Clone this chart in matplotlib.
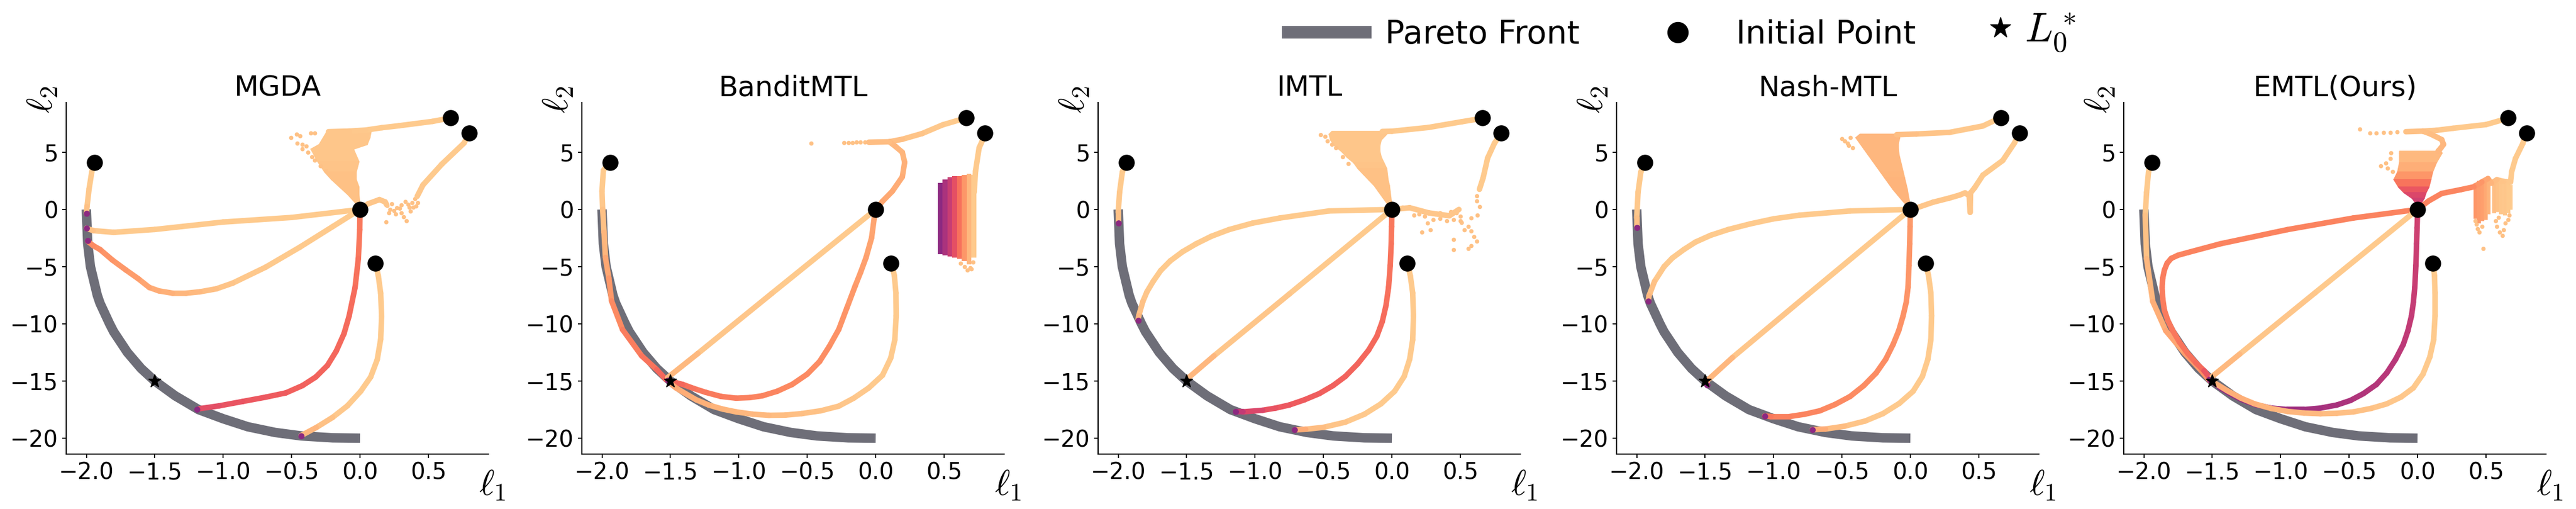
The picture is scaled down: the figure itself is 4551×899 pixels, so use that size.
import matplotlib.pyplot as plt
import numpy as np
from matplotlib.collections import LineCollection
from matplotlib.lines import Line2D

plt.rcParams['mathtext.fontset'] = 'cm'

titles = ['MGDA', 'BanditMTL', 'IMTL', 'Nash-MTL', 'EMTL(Ours)']

# Pareto front
front_l1 = [-2.00, -1.99, -1.97, -1.92, -1.90, -1.83, -1.80, -1.70, -1.60, -1.50,
            -1.35, -1.18, -1.00, -0.82, -0.62, -0.43, -0.20, 0.00]
front_l2 = [0.0, -3.0, -5.0, -7.5, -8.2, -10.0, -10.7, -12.5, -13.9, -15.0,
            -16.3, -17.5, -18.3, -19.0, -19.5, -19.8, -19.97, -20.0]

# initial points and L0*
init_l1 = [-1.94, 0.0, 0.11, 0.66, 0.80]
init_l2 = [4.1, 0.0, -4.7, 8.0, 6.7]
opt_l1, opt_l2 = -1.5, -15.0

# trajectories: rows of [l1, l2, progress] (progress -> magma colour)
mgda_paths = [
    [[-1.94, 4.1, .89], [-1.96, 3.3, .89], [-1.98, 1.8, .89], [-1.995, 0.25, .88], [-2.0, -0.35, .86]],
    [[0.0, 0.0, .89], [-0.5, -0.7, .89], [-1.0, -1.1, .89], [-1.5, -1.75, .89], [-1.8, -2.0, .89],
     [-1.95, -1.85, .88], [-2.0, -1.64, .86]],
    [[0.0, 0.0, .89], [-0.2, -1.5, .89], [-0.44, -3.3, .89], [-0.69, -5.05, .89], [-0.93, -6.44, .88],
     [-1.05, -6.94, .87], [-1.17, -7.2, .86], [-1.27, -7.32, .85], [-1.37, -7.32, .84], [-1.47, -7.12, .83],
     [-1.54, -6.82, .82], [-1.62, -6.06, .80], [-1.71, -5.3, .79], [-1.81, -4.42, .78], [-1.90, -3.5, .77],
     [-1.95, -3.16, .76], [-1.99, -2.78, .75]],
    [[0.0, 0.0, .72], [-0.002, -1.77, .72], [-0.012, -4.29, .71], [-0.036, -6.82, .70], [-0.08, -9.34, .69],
     [-0.117, -10.86, .69], [-0.173, -12.37, .68], [-0.238, -13.64, .68], [-0.323, -14.65, .67],
     [-0.42, -15.4, .67], [-0.542, -16.04, .66], [-0.688, -16.41, .65], [-0.858, -16.79, .64],
     [-1.028, -17.17, .63], [-1.174, -17.42, .60]],
    [[0.114, -4.72, .89], [0.134, -5.81, .89], [0.151, -7.32, .89], [0.158, -9.34, .89], [0.151, -11.36, .89],
     [0.126, -13.13, .89], [0.078, -14.65, .89], [0.005, -15.9, .89], [-0.092, -17.17, .89],
     [-0.2, -18.18, .88], [-0.32, -19.07, .86], [-0.43, -19.77, .84]],
    [[0.66, 8.0, .89], [0.53, 7.7, .89], [0.284, 7.32, .89], [0.16, 7.15, .89], [0.04, 6.94, .89],
     [-0.08, 6.85, .88], [-0.23, 6.8, .88]],
    [[0.80, 6.7, .89], [0.76, 5.8, .89], [0.598, 3.96, .89], [0.46, 2.14, .89], [0.418, 1.15, .88]],
    [[0.0, 0.0, .88], [0.06, 0.5, .88], [0.142, 0.86, .88], [0.184, 0.66, .88], [0.195, 0.41, .88]],
]
bandit_paths = [
    [[-1.95, 4.1, .89], [-1.99, 3.4, .89], [-2.0, 1.6, .89], [-1.995, 0.0, .88], [-1.985, -2.0, .86],
     [-1.975, -4.2, .83], [-1.95, -6.0, .80], [-1.93, -8.0, .77], [-1.85, -10.5, .74], [-1.71, -12.8, .72],
     [-1.60, -14.0, .70], [-1.53, -14.9, .66]],
    [[0.0, 0.0, .89], [-0.76, -7.35, .89], [-1.30, -12.6, .87], [-1.52, -14.7, .84]],
    [[0.0, 0.0, .81], [-0.01, -0.7, .81], [-0.03, -2.5, .81], [-0.07, -4.2, .80], [-0.11, -5.5, .80],
     [-0.15, -6.7, .79], [-0.21, -8.6, .78], [-0.27, -10.5, .77], [-0.34, -12.0, .77], [-0.41, -13.3, .76],
     [-0.50, -14.4, .76], [-0.61, -15.3, .75], [-0.72, -15.9, .75], [-0.83, -16.3, .74], [-0.92, -16.45, .74],
     [-1.02, -16.5, .73], [-1.13, -16.35, .73], [-1.24, -16.0, .72], [-1.33, -15.65, .71],
     [-1.41, -15.3, .70], [-1.52, -14.95, .66]],
    [[0.117, -4.72, .89], [0.137, -5.8, .89], [0.148, -7.3, .89], [0.15, -9.3, .89], [0.14, -11.4, .89],
     [0.11, -13.0, .89], [0.05, -14.5, .89], [-0.05, -15.6, .89], [-0.16, -16.5, .88], [-0.27, -17.2, .88],
     [-0.40, -17.6, .87], [-0.54, -17.85, .87], [-0.66, -17.98, .86], [-0.78, -18.0, .86],
     [-0.90, -17.9, .85], [-1.02, -17.7, .85], [-1.12, -17.45, .84], [-1.22, -17.1, .84],
     [-1.31, -16.65, .83], [-1.39, -16.1, .83], [-1.46, -15.6, .82], [-1.49, -15.3, .82]],
    [[0.66, 8.0, .89], [0.49, 7.4, .89], [0.34, 6.64, .88], [0.195, 6.14, .87], [0.10, 5.92, .86],
     [0.146, 5.5, .85], [0.195, 5.0, .85], [0.212, 4.12, .84], [0.195, 2.85, .83], [0.122, 1.59, .82],
     [0.049, 0.7, .82], [0.0, 0.0, .81]],
    [[0.10, 5.92, .86], [-0.05, 5.88, .86]],
    [[0.805, 6.69, .89], [0.756, 5.38, .89], [0.73, 3.36, .89], [0.72, 1.5, .89]],
]
imtl_paths = [
    [[-1.944, 4.08, .89], [-1.97, 3.27, .89], [-1.99, 1.5, .89], [-2.0, -0.25, .88], [-2.0, -1.2, .86]],
    [[0.0, 0.0, .89], [-0.46, -0.13, .89], [-0.82, -0.75, .89], [-1.02, -1.2, .89], [-1.19, -1.76, .89],
     [-1.32, -2.35, .89], [-1.43, -3.0, .89], [-1.53, -3.7, .89], [-1.62, -4.5, .89], [-1.69, -5.35, .89],
     [-1.745, -6.3, .89], [-1.79, -7.2, .88], [-1.82, -8.05, .88], [-1.85, -9.3, .86], [-1.855, -9.7, .84]],
    [[0.0, 0.0, .89], [-0.75, -7.4, .89], [-1.3, -12.8, .87], [-1.49, -14.75, .83]],
    [[0.0, 0.0, .72], [-0.002, -1.5, .72], [-0.005, -3.0, .71], [-0.012, -4.9, .71], [-0.024, -6.8, .70],
     [-0.043, -8.4, .70], [-0.07, -9.8, .69], [-0.11, -11.1, .69], [-0.17, -12.3, .68], [-0.25, -13.5, .68],
     [-0.34, -14.6, .67], [-0.43, -15.4, .67], [-0.53, -16.1, .66], [-0.64, -16.65, .66],
     [-0.75, -17.1, .65], [-0.85, -17.37, .64], [-0.945, -17.56, .62], [-1.09, -17.7, .56],
     [-1.14, -17.7, .50]],
    [[0.114, -4.7, .89], [0.135, -5.8, .89], [0.152, -7.3, .89], [0.158, -9.3, .89], [0.152, -11.4, .89],
     [0.13, -13.1, .89], [0.09, -14.6, .89], [0.02, -15.9, .89], [-0.08, -17.0, .89], [-0.20, -17.9, .89],
     [-0.34, -18.6, .88], [-0.50, -19.05, .87], [-0.63, -19.22, .85], [-0.71, -19.27, .80]],
    [[0.66, 7.97, .89], [0.51, 7.67, .89], [0.267, 7.17, .89], [0.0, 6.84, .89], [-0.07, 6.82, .88]],
    [[0.80, 6.67, .89], [0.75, 5.8, .89], [0.70, 4.5, .89], [0.667, 2.77, .89], [0.64, 1.76, .89]],
    [[0.0, 0.0, .88], [0.13, 0.15, .88], [0.27, -0.3, .88], [0.42, -0.55, .88], [0.49, 0.0, .88]],
]
nash_paths = [
    [[-1.94, 4.08, .89], [-1.97, 3.27, .89], [-1.99, 1.5, .89], [-2.0, -0.75, .88], [-2.0, -1.58, .86]],
    [[0.0, 0.0, .89], [-0.44, -0.13, .89], [-0.81, -0.5, .89], [-1.0, -0.82, .89], [-1.17, -1.26, .89],
     [-1.33, -1.75, .89], [-1.46, -2.26, .89], [-1.57, -2.85, .89], [-1.655, -3.5, .89], [-1.74, -4.25, .89],
     [-1.80, -5.0, .89], [-1.87, -6.3, .88], [-1.91, -7.55, .86], [-1.915, -8.0, .84]],
    [[0.0, 0.0, .89], [-0.75, -7.45, .89], [-1.3, -12.95, .87], [-1.485, -14.97, .83], [-1.485, -15.35, .78]],
    [[0.0, 0.0, .79], [-0.002, -1.5, .79], [-0.005, -3.0, .78], [-0.01, -4.9, .78], [-0.017, -6.8, .78],
     [-0.03, -8.1, .77], [-0.053, -9.3, .77], [-0.085, -10.6, .77], [-0.126, -11.8, .77], [-0.18, -13.1, .76],
     [-0.25, -14.3, .76], [-0.34, -15.4, .76], [-0.44, -16.35, .76], [-0.55, -17.05, .75],
     [-0.66, -17.6, .75], [-0.77, -17.9, .74], [-0.88, -18.1, .74], [-1.02, -18.1, .73],
     [-1.065, -18.06, .70]],
    [[0.112, -4.7, .89], [0.133, -5.8, .89], [0.15, -7.3, .89], [0.155, -9.3, .89], [0.15, -11.4, .89],
     [0.128, -13.1, .89], [0.088, -14.6, .89], [0.02, -15.9, .89], [-0.08, -16.95, .89], [-0.20, -17.85, .89],
     [-0.33, -18.5, .88], [-0.48, -18.95, .87], [-0.62, -19.2, .85], [-0.716, -19.25, .80]],
    [[0.655, 8.0, .89], [0.53, 7.3, .89], [0.286, 6.74, .88], [0.044, 6.6, .87], [-0.1, 6.54, .86]],
    [[0.796, 6.67, .89], [0.76, 5.8, .89], [0.675, 4.28, .89], [0.53, 3.0, .89], [0.47, 1.9, .89],
     [0.44, 1.45, .88], [0.437, -0.25, .88], [0.43, 1.2, .88], [0.40, 1.45, .88], [0.36, 1.26, .88],
     [0.286, 1.0, .88], [0.165, 0.63, .88], [0.044, 0.13, .88], [0.0, 0.0, .88]],
]
emtl_paths = [
    [[-1.947, 4.08, .89], [-1.966, 3.27, .89], [-1.98, 1.5, .89], [-1.99, -0.5, .88], [-1.98, -4.3, .86],
     [-1.935, -8.05, .84], [-1.84, -10.6, .82], [-1.70, -12.6, .80], [-1.58, -14.1, .78], [-1.52, -14.97, .75]],
    [[0.79, 6.67, .89], [0.77, 5.78, .89], [0.716, 4.46, .89], [0.688, 3.3, .89], [0.68, 2.4, .89],
     [0.63, 2.45, .88], [0.58, 2.6, .87], [0.54, 2.3, .85], [0.515, 2.7, .83], [0.47, 2.4, .80],
     [0.412, 1.98, .76]],
    [[0.412, 1.98, .75], [0.315, 1.73, .75], [0.177, 1.4, .74], [0.081, 0.74, .74],
     [0.0, 0.0, .74], [-0.47, -0.75, .74], [-0.95, -1.76, .74], [-1.44, -3.0, .74], [-1.68, -3.77, .74],
     [-1.75, -4.0, .74], [-1.80, -4.28, .74], [-1.83, -4.7, .73], [-1.85, -5.3, .73], [-1.862, -6.0, .73],
     [-1.867, -6.8, .73], [-1.862, -7.8, .73], [-1.85, -8.8, .73], [-1.825, -9.7, .72],
     [-1.79, -10.57, .72], [-1.74, -11.6, .71], [-1.68, -12.58, .71], [-1.62, -13.4, .70],
     [-1.56, -14.1, .68], [-1.52, -14.7, .60]],
    [[0.0, 0.5, .56], [0.0, -0.25, .56], [-0.003, -1.6, .56], [-0.007, -3.0, .55], [-0.012, -4.9, .55],
     [-0.02, -6.8, .54], [-0.03, -8.1, .54], [-0.044, -9.3, .53], [-0.07, -10.6, .53], [-0.104, -11.8, .52],
     [-0.16, -13.1, .51], [-0.225, -14.3, .50], [-0.30, -15.3, .50], [-0.395, -16.1, .49],
     [-0.49, -16.7, .48], [-0.59, -17.1, .47], [-0.71, -17.37, .46], [-0.83, -17.5, .45],
     [-0.95, -17.5, .44], [-1.074, -17.36, .44], [-1.19, -17.05, .43], [-1.29, -16.6, .42],
     [-1.37, -16.1, .42], [-1.44, -15.6, .41], [-1.52, -14.85, .40]],
    [[0.0, 0.0, .89], [-0.75, -7.3, .89], [-1.3, -12.65, .87], [-1.5, -14.6, .84]],
    [[0.114, -4.7, .89], [0.124, -5.8, .89], [0.128, -7.3, .89], [0.128, -9.3, .89], [0.118, -11.4, .89],
     [0.09, -12.9, .89], [0.04, -14.4, .89], [-0.03, -15.6, .89], [-0.12, -16.4, .88], [-0.225, -17.0, .88],
     [-0.34, -17.4, .87], [-0.468, -17.7, .87], [-0.59, -17.82, .86], [-0.71, -17.86, .86],
     [-0.83, -17.8, .85], [-0.95, -17.66, .85], [-1.07, -17.4, .84], [-1.19, -17.0, .84],
     [-1.29, -16.5, .83], [-1.39, -15.85, .83], [-1.51, -14.97, .82]],
    [[0.66, 7.97, .89], [0.50, 7.42, .89], [0.26, 7.1, .89], [0.138, 6.92, .88], [0.039, 6.85, .87],
     [-0.085, 6.8, .87]],
    [[0.039, 6.85, .87], [0.095, 6.6, .86], [0.177, 6.11, .86], [0.19, 5.69, .85], [0.17, 5.36, .85],
     [0.15, 5.1, .85]],
]
all_paths = [mgda_paths, bandit_paths, imtl_paths, nash_paths, emtl_paths]

# converged end points (purple)
mgda_ends = [[-2.0, -0.35], [-2.0, -1.64], [-1.99, -2.75], [-1.19, -17.5], [-0.43, -19.8]]
bandit_ends = [[-1.52, -14.95]]
imtl_ends = [[-2.0, -1.2], [-1.855, -9.7], [-1.14, -17.7], [-0.71, -19.27]]
nash_ends = [[-2.0, -1.58], [-1.915, -8.0], [-1.485, -15.35], [-1.065, -18.06], [-0.716, -19.25]]
emtl_ends = [[-1.52, -14.9]]
all_ends = [mgda_ends, bandit_ends, imtl_ends, nash_ends, emtl_ends]

# dense oscillation clouds, outline rows: [l2, l1 left, l1 right, progress]
mgda_cloud = [[6.9, -0.24, 0.08, .88], [6.3, -0.27, 0.07, .88], [5.7, -0.30, 0.05, .88],
              [5.3, -0.36, -0.05, .88], [4.2, -0.31, -0.01, .88], [3.3, -0.26, -0.03, .87],
              [2.64, -0.21, -0.03, .87], [1.98, -0.15, -0.01, .87], [1.32, -0.09, -0.01, .87],
              [0.66, -0.04, -0.005, .87], [0.2, -0.01, 0.0, .87]]
imtl_cloud = [[6.85, -0.44, -0.03, .88], [6.6, -0.46, -0.04, .88], [6.1, -0.45, -0.08, .88],
              [5.6, -0.42, -0.09, .88], [5.1, -0.37, -0.09, .88], [4.6, -0.33, -0.08, .88],
              [4.1, -0.28, -0.06, .88], [3.6, -0.25, -0.04, .87], [3.1, -0.21, -0.035, .87],
              [2.6, -0.17, -0.03, .87], [2.1, -0.13, -0.02, .87], [1.6, -0.10, -0.015, .87],
              [1.1, -0.07, -0.01, .87], [0.6, -0.04, -0.005, .87], [0.2, -0.01, 0.0, .87]]
nash_cloud = [[6.6, -0.37, -0.09, .85], [6.3, -0.40, -0.08, .85], [5.8, -0.37, -0.09, .85],
              [5.3, -0.34, -0.09, .85], [4.8, -0.31, -0.085, .85], [4.3, -0.28, -0.075, .85],
              [3.8, -0.25, -0.065, .85], [3.3, -0.22, -0.055, .85], [2.8, -0.19, -0.045, .84],
              [2.3, -0.16, -0.035, .84], [1.8, -0.13, -0.025, .84], [1.3, -0.095, -0.018, .84],
              [0.8, -0.06, -0.01, .84], [0.4, -0.03, -0.005, .84], [0.15, -0.01, 0.0, .84]]
emtl_cloud = [[5.11, -0.133, 0.17, .86], [4.95, -0.133, 0.177, .86], [4.12, -0.133, 0.136, .85],
              [3.3, -0.147, 0.108, .81], [2.64, -0.174, 0.095, .75], [1.98, -0.14, 0.081, .67],
              [1.49, -0.10, 0.06, .61], [0.99, -0.04, 0.046, .57], [0.5, -0.01, 0.02, .55]]
all_clouds = [mgda_cloud, [], imtl_cloud, nash_cloud, emtl_cloud]

# BanditMTL column cloud: [l1, top l2, bottom l2, progress]
bandit_cols = [[0.473, 2.3, -3.9, .40], [0.508, 2.6, -4.0, .47], [0.543, 2.8, -4.1, .54],
               [0.578, 2.9, -4.2, .62], [0.613, 2.9, -4.3, .70], [0.648, 3.0, -4.5, .78],
               [0.683, 3.1, -4.8, .85], [0.718, 3.0, -4.2, .89]]

# EMTL vertical oscillation spikes: [l1, top, bottom, progress]
emtl_spikes = [[0.42, 2.3, -0.8, .78], [0.445, 2.5, -1.2, .79], [0.47, 2.6, -1.0, .80],
               [0.495, 2.7, -0.9, .82], [0.515, 2.5, -0.4, .84], [0.56, 2.5, -0.3, .86],
               [0.585, 2.6, -0.2, .87], [0.61, 2.5, -0.4, .88], [0.635, 2.3, -0.5, .88],
               [0.66, 2.3, -0.3, .89], [0.68, 2.2, 0.0, .89]]

# sparse scattered iterates
mgda_dots = [[-0.506, 6.27], [-0.465, 6.6], [-0.44, 6.44], [-0.36, 6.7], [-0.33, 6.7], [-0.46, 5.78],
             [-0.42, 5.7], [-0.395, 5.53], [-0.42, 5.28], [-0.33, 4.29], [-0.29, 3.8], [-0.25, 3.38],
             [-0.38, 5.0], [-0.35, 4.6], [0.20, 0.35], [0.22, 0.0], [0.21, -0.3], [0.23, 0.5],
             [0.25, -0.1], [0.27, 0.15], [0.30, 0.4], [0.33, 0.7], [0.36, 0.2], [0.38, 0.6],
             [0.40, 0.95], [0.42, 0.6], [0.30, -0.3], [0.34, -0.99], [0.19, -1.07], [0.32, -0.66],
             [0.26, -0.4], [0.37, -0.15], [0.41, 0.3], [0.29, 0.1], [0.35, 0.45], [0.39, 0.2]]
bandit_dots = [[-0.47, 5.8], [-0.23, 5.85], [-0.20, 5.85], [-0.17, 5.86], [-0.14, 5.87],
               [-0.11, 5.88], [-0.08, 5.88], [0.65, -5.0], [0.67, -5.3], [0.69, -5.1],
               [0.62, -4.7], [0.71, -4.6], [0.70, -5.2]]
imtl_dots = [[-0.52, 6.55], [-0.49, 6.4], [-0.47, 6.0], [-0.44, 5.7], [-0.41, 5.4], [-0.36, 4.6],
             [-0.32, 4.0], [0.62, 1.2], [0.62, 0.75], [0.64, 0.25], [0.625, -0.5], [0.58, -0.75],
             [0.56, -1.5], [0.53, -1.76], [0.58, -1.9], [0.62, -2.77], [0.51, -1.13], [0.45, -2.64],
             [0.45, -3.5], [0.56, -3.4], [0.58, -3.15], [0.60, -2.4], [0.08, 0.2], [0.18, 0.0],
             [0.22, -0.1], [0.32, -0.4], [0.37, -0.5], [0.47, -0.3], [0.50, -0.6], [0.30, -0.9],
             [0.26, -1.2], [0.28, -1.8], [0.22, -2.0], [0.35, -0.8], [0.40, -1.0], [0.45, -0.9],
             [0.50, -1.0], [0.16, -0.5], [0.20, -0.4], [0.24, -0.6], [0.43, -0.2], [0.35, -0.3]]
nash_dots = [[-0.50, 6.2], [-0.48, 6.0], [-0.45, 5.6], [-0.44, 6.3], [-0.42, 5.4], [-0.46, 5.8]]
emtl_dots = [[-0.15, 6.78], [-0.2, 6.75], [-0.25, 6.72], [-0.30, 6.7], [-0.347, 6.68], [-0.42, 7.04],
             [-0.195, 4.95], [-0.2, 4.46], [-0.27, 3.8], [-0.23, 4.04], [-0.22, 3.63], [-0.18, 3.3],
             [0.43, -1.3], [0.44, -1.7], [0.45, -2.0], [0.47, -1.5], [0.42, -1.0], [0.48, -3.4],
             [0.57, -1.0], [0.58, -1.5], [0.60, -2.0], [0.62, -2.3], [0.64, -1.2], [0.66, -0.9],
             [0.59, -0.7], [0.63, -1.8], [0.67, -0.5]]
all_dots = [mgda_dots, bandit_dots, imtl_dots, nash_dots, emtl_dots]

cmap = plt.get_cmap('magma')
front_color = '#6e6e78'
W, H = 4551, 899
lefts = [117, 1028, 1940, 2856, 3752]

fig = plt.figure(figsize=(W / 100, H / 100), dpi=100)

for k in range(5):
    ax = fig.add_axes([lefts[k] / W, 97 / H, 746 / W, 620.5 / H])

    ax.plot(front_l1, front_l2, color=front_color, lw=12, solid_capstyle='butt', zorder=1)

    cloud = all_clouds[k]
    for a, b in zip(cloud[:-1], cloud[1:]):
        ax.fill_betweenx([a[0], b[0]], [a[1], b[1]], [a[2], b[2]],
                         color=cmap((a[3] + b[3]) / 2), linewidth=1.5, zorder=2)
    if k == 1:
        for col in bandit_cols:
            ax.bar(col[0], col[1] - col[2], bottom=col[2], width=0.036,
                   color=cmap(col[3]), linewidth=0, zorder=2)
    if k == 4:
        for sp in emtl_spikes:
            ax.vlines(sp[0], sp[2], sp[1], color=cmap(sp[3]), lw=5, zorder=2)

    dots = np.array(all_dots[k])
    ax.scatter(dots[:, 0], dots[:, 1], s=30, color=cmap(0.87), linewidths=0, zorder=2)

    for path in all_paths[k]:
        p = np.array(path)
        segs = np.stack([p[:-1, :2], p[1:, :2]], axis=1)
        cols = cmap((p[:-1, 2] + p[1:, 2]) / 2)
        lc = LineCollection(segs, colors=cols, linewidths=7, capstyle='round',
                            joinstyle='round', zorder=3)
        ax.add_collection(lc)

    ends = np.array(all_ends[k])
    ax.scatter(ends[:, 0], ends[:, 1], s=60, color=cmap(0.4), linewidths=0, zorder=4)

    ax.scatter(init_l1, init_l2, s=420, color='black', linewidths=0, zorder=5)
    ax.plot(opt_l1, opt_l2, marker='*', color='black', markersize=17, ls='', zorder=6)

    ax.set_xlim(-2.147, 0.939)
    ax.set_ylim(-21.39, 9.33)
    ax.set_xticks([-2.0, -1.5, -1.0, -0.5, 0.0, 0.5])
    ax.set_yticks([-20, -15, -10, -5, 0, 5])
    ax.tick_params(labelsize=29, length=5, width=1.4, pad=5)
    for side in ['top', 'right']:
        ax.spines[side].set_visible(False)
    for side in ['left', 'bottom']:
        ax.spines[side].set_linewidth(1.5)

    ax.set_title(titles[k], fontsize=36, pad=9)
    ax.set_xlabel(r'$\ell_1$', fontsize=46)
    ax.xaxis.set_label_coords(1.009, -0.037)
    ax.set_ylabel(r'$\ell_2$', fontsize=46)
    ax.yaxis.set_label_coords(-0.016, 1.009)

h1 = [Line2D([], [], color=front_color, lw=16),
      Line2D([], [], marker='o', ls='', color='black', markersize=26)]
fig.legend(h1, ['Pareto Front', 'Initial Point'], loc='center',
           bbox_to_anchor=(2830 / W, 1 - 61 / H), ncol=2, frameon=False, fontsize=41,
           handlelength=2.4, handletextpad=0.6, columnspacing=1.85)
h2 = [Line2D([], [], marker='*', ls='', color='black', markersize=28)]
fig.legend(h2, [r'$L_0^*$'], loc='center', bbox_to_anchor=(3590 / W, 1 - 58 / H),
           frameon=False, fontsize=52, handlelength=0.6, handletextpad=0.3)

fig.savefig('out.png', dpi=100)
plt.close()
